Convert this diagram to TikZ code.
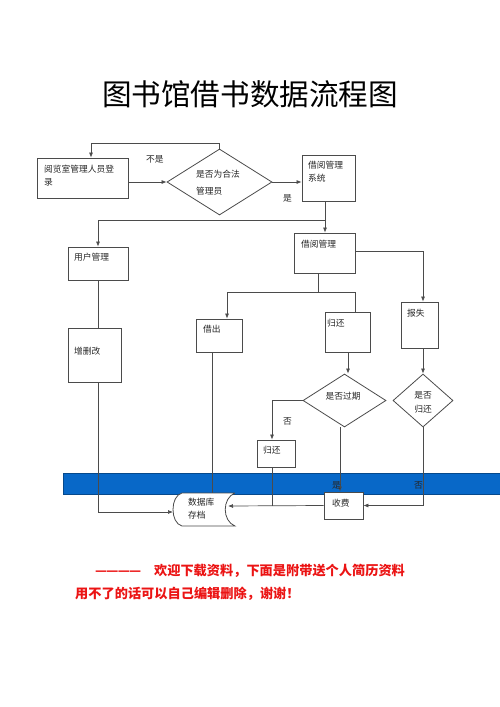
\documentclass[tikz,border=0pt]{standalone}
\usepackage{fontspec}
\setmainfont{Noto Sans CJK SC}
\usetikzlibrary{shapes.geometric,arrows.meta}
\definecolor{lncol}{RGB}{75,75,75}
\definecolor{bandcol}{RGB}{8,104,200}
\definecolor{redtxt}{RGB}{235,20,20}
\begin{document}
\begin{tikzpicture}[x={(1pt,0pt)},y={(0pt,-1pt)},
 box/.style={draw=lncol,line width=0.8pt,inner sep=0pt,rectangle,fill=white},
 dia/.style={draw=lncol,line width=0.8pt,inner sep=0pt,diamond,fill=white},
 conn/.style={draw=lncol,line width=0.7pt},
 arr/.style={conn,-{Latex[length=5pt,width=4pt]}},
 txt/.style={font=\fontsize{8.75}{10}\selectfont,inner sep=0pt,anchor=base west,text=black!85},
 redline/.style={font=\fontsize{13.2}{15}\selectfont\bfseries,inner sep=0pt,anchor=base west,text=redtxt}]
\useasboundingbox (0,0) rectangle (500,707);
% title
\node[font=\fontsize{29.6}{32}\selectfont,inner sep=0pt,anchor=base] (title) at (250,105.5) {图书馆借书数据流程图};
% band
\fill[bandcol,draw=bandcol!70!black,line width=0.5pt] (63,473) rectangle (500,494);
% boxes
\node[box,minimum width=91pt,minimum height=40pt] (b1) at (82.5,178) {};
\node[dia,minimum width=105pt,minimum height=66pt] (d1) at (219.5,182) {};
\node[box,minimum width=53pt,minimum height=46pt] (b2) at (328.5,178) {};
\node[box,minimum width=60pt,minimum height=33pt] (b3) at (98,263.5) {};
\node[box,minimum width=61pt,minimum height=40pt] (b4) at (324.5,253) {};
\node[box,minimum width=53pt,minimum height=54pt] (b5) at (94.5,355) {};
\node[box,minimum width=46pt,minimum height=33pt] (b6) at (219,335.5) {};
\node[box,minimum width=45pt,minimum height=40pt] (b7) at (347.5,332) {};
\node[box,minimum width=37pt,minimum height=46pt] (b8) at (419.5,325) {};
\node[dia,minimum width=83pt,minimum height=53pt] (d2) at (344.5,400.5) {};
\node[dia,minimum width=60pt,minimum height=53pt] (d3) at (423,400.5) {};
\node[box,minimum width=38pt,minimum height=27pt] (b9) at (276,453.5) {};
\node[box,minimum width=39pt,minimum height=27pt] (b10) at (343.5,505.5) {};
% database
\draw[draw=lncol,line width=0.8pt,fill=white] (235,493) -- (182,493) .. controls (170,496) and (170,523) .. (182,526) -- (235,526) .. controls (222,521) and (222,498) .. (235,493);
\coordinate (dbL) at (173,512);
\coordinate (dbR) at (228,506);
\coordinate (dbT) at (212,493);
% junctions
\coordinate (lp) at (91,143);
\coordinate (j1) at (325,220);
\coordinate (j2) at (318,292);
\coordinate (j3) at (272,506);
\coordinate (j4) at (355,292);
\coordinate (j5) at (227,292);
% connectors
\draw[arr] (d1.north) |- (lp) -- (lp |- b1.north);
\draw[arr] (b1.east |- d1.west) -- (d1.west);
\draw[arr] (d1.east) -- (b2.west |- d1.east);
\draw[arr] (b2.south -| j1) -- (j1 |- b4.north);
\draw[arr] (j1) -| (b3.north);
\draw[conn] (b3.south) -- (b3.south |- b5.north);
\draw[arr] (b3.south |- b5.south) |- (dbL);
\draw[conn] (b4.south -| j2) -- (j2);
\draw[arr] (j4) -| (j5) -- (j5 |- b6.north);
\draw[conn] (j4) -- (j4 |- b7.north);
\draw[arr] (b4.east |- 0,251) -| (b8.north -| 423,0);
\draw[conn] (b6.south -| dbT) -- (dbT);
\draw[arr] (b7.south -| 348,0) -- (d2.north -| 348,0);
\draw[arr] (b8.south -| d3.north) -- (d3.north);
\draw[arr] (d2.west) -| (b9.north -| 272,0);
\draw[conn] (b9.south -| j3) -- (j3);
\draw[arr] (d2.south -| 340,0) -- (b10.north -| 340,0);
\draw[arr] (d3.south) |- (b10.east);
\draw[arr] (b10.west) -- (dbR);
% texts
\node[txt] (t1a) at (44,172.2) {阅览室管理人员登};
\node[txt] (t1b) at (44,185.2) {录};
\node[txt] (t2a) at (196,177.2) {是否为合法};
\node[txt] (t2b) at (196,194.2) {管理员};
\node[txt] (t3a) at (308,168.2) {借阅管理};
\node[txt] (t3b) at (308,181.2) {系统};
\node[txt] (t4) at (74,260.2) {用户管理};
\node[txt] (t5) at (301,247.2) {借阅管理};
\node[txt] (t6) at (74,354.2) {增删改};
\node[txt] (t7) at (203,332.2) {借出};
\node[txt] (t8) at (327,326.2) {归还};
\node[txt] (t9) at (407,316.2) {报失};
\node[txt,anchor=base] (t10) at (343,399.2) {是否过期};
\node[txt,anchor=base] (t11a) at (423,398.2) {是否};
\node[txt,anchor=base] (t11b) at (423,412.2) {归还};
\node[txt] (t12) at (263,453.2) {归还};
\node[txt] (t13) at (332,506.2) {收费};
\node[txt] (t14a) at (188,505.2) {数据库};
\node[txt] (t14b) at (188,518.2) {存档};
\node[txt] (l1) at (146,162.2) {不是};
\node[txt] (l2) at (283,201.2) {是};
\node[txt] (l3) at (283,424.2) {否};
\node[txt] (l4) at (332,488.2) {是};
\node[txt] (l5) at (414,488.2) {否};
% red text
\node[redline] (r1) at (95,575) {—\kern-0.8pt—\kern-0.8pt—\kern-0.8pt—\hspace{13pt}欢迎下载资料，下面是附带送个人简历资料};
\node[redline] (r2) at (75,598) {用不了的话可以自己编辑删除，谢谢！};
\end{tikzpicture}
\end{document}
